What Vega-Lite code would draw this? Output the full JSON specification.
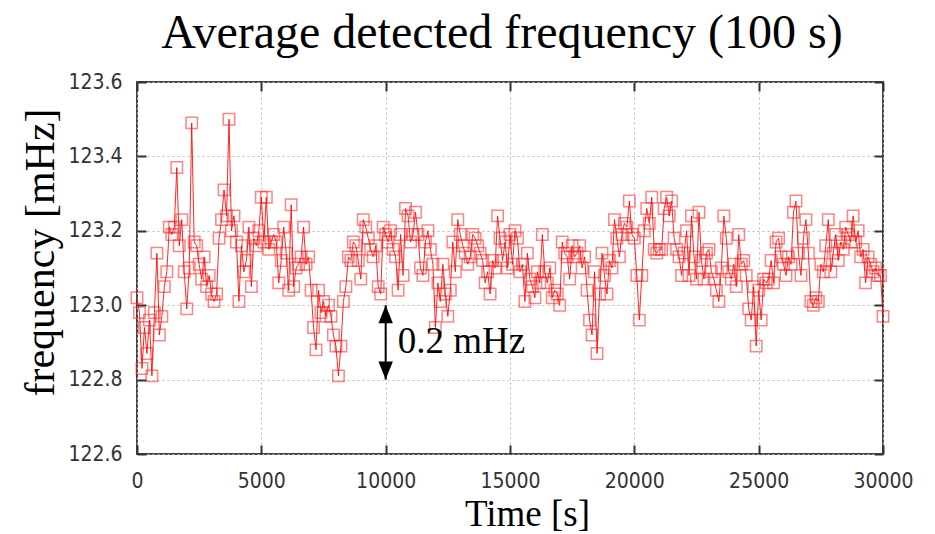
{
  "$schema": "https://vega.github.io/schema/vega-lite/v6.json",
  "width": 746,
  "height": 372,
  "autosize": {"type": "none"},
  "padding": {"left": 137, "top": 82, "right": 52, "bottom": 80},
  "background": "white",
  "title": {
    "text": "Average detected frequency (100 s)",
    "font": "Liberation Serif",
    "fontSize": 48,
    "fontWeight": "normal",
    "color": "black",
    "anchor": "middle",
    "offset": 13,
    "dx": -8
  },
  "config": {
    "view": {"stroke": "#444444", "strokeWidth": 2},
    "axis": {
      "labelFont": "Liberation Sans Narrow, DejaVu Sans Condensed, Liberation Sans",
      "labelFontSize": 21,
      "labelColor": "#333333",
      "labelFlush": false,
      "titleFont": "Liberation Serif",
      "titleFontWeight": "normal",
      "titleColor": "black",
      "domain": false,
      "tickColor": "#333333",
      "tickWidth": 2,
      "tickSize": -9,
      "gridColor": "#bbbbbb",
      "gridDash": [2, 3],
      "gridWidth": 1
    }
  },
  "datasets": {
    "freq": [
      {"t":0,"f":123.02},{"t":100,"f":122.98},{"t":200,"f":122.83},{"t":300,"f":122.94},{"t":400,"f":122.87},
      {"t":500,"f":122.96},{"t":600,"f":122.81},{"t":700,"f":122.98},{"t":800,"f":123.14},{"t":900,"f":122.92},
      {"t":1000,"f":122.97},{"t":1100,"f":123.05},{"t":1200,"f":123.09},{"t":1300,"f":123.21},{"t":1400,"f":123.19},
      {"t":1500,"f":123.21},{"t":1600,"f":123.37},{"t":1700,"f":123.16},{"t":1800,"f":123.23},{"t":1900,"f":123.09},
      {"t":2000,"f":122.99},{"t":2100,"f":123.10},{"t":2200,"f":123.49},{"t":2300,"f":123.17},{"t":2400,"f":123.16},
      {"t":2500,"f":123.11},{"t":2600,"f":123.07},{"t":2700,"f":123.13},{"t":2800,"f":123.05},{"t":2900,"f":123.08},
      {"t":3000,"f":123.03},{"t":3100,"f":123.01},{"t":3200,"f":123.03},{"t":3300,"f":123.18},{"t":3400,"f":123.23},
      {"t":3500,"f":123.31},{"t":3600,"f":123.24},{"t":3700,"f":123.50},{"t":3800,"f":123.20},{"t":3900,"f":123.24},
      {"t":4000,"f":123.17},{"t":4100,"f":123.01},{"t":4200,"f":123.16},{"t":4300,"f":123.09},{"t":4400,"f":123.12},
      {"t":4500,"f":123.21},{"t":4600,"f":123.05},{"t":4700,"f":123.18},{"t":4800,"f":123.16},{"t":4900,"f":123.20},
      {"t":5000,"f":123.29},{"t":5100,"f":123.17},{"t":5200,"f":123.29},{"t":5300,"f":123.15},{"t":5400,"f":123.17},
      {"t":5500,"f":123.19},{"t":5600,"f":123.17},{"t":5700,"f":123.06},{"t":5800,"f":123.12},{"t":5900,"f":123.21},
      {"t":6000,"f":123.14},{"t":6100,"f":123.04},{"t":6200,"f":123.27},{"t":6300,"f":123.05},{"t":6400,"f":123.10},
      {"t":6500,"f":123.11},{"t":6600,"f":123.13},{"t":6700,"f":123.21},{"t":6800,"f":123.11},{"t":6900,"f":123.13},
      {"t":7000,"f":123.04},{"t":7100,"f":122.94},{"t":7200,"f":122.88},{"t":7300,"f":123.04},{"t":7400,"f":122.98},
      {"t":7500,"f":123.01},{"t":7600,"f":122.97},{"t":7700,"f":123.00},{"t":7800,"f":122.97},{"t":7900,"f":122.92},
      {"t":8000,"f":122.89},{"t":8100,"f":122.81},{"t":8200,"f":122.89},{"t":8300,"f":123.01},{"t":8400,"f":123.05},
      {"t":8500,"f":123.13},{"t":8600,"f":123.12},{"t":8700,"f":123.17},{"t":8800,"f":123.16},{"t":8900,"f":123.12},
      {"t":9000,"f":123.07},{"t":9100,"f":123.23},{"t":9200,"f":123.21},{"t":9300,"f":123.18},{"t":9400,"f":123.15},
      {"t":9500,"f":123.13},{"t":9600,"f":123.16},{"t":9700,"f":123.05},{"t":9800,"f":123.03},{"t":9900,"f":123.21},
      {"t":10000,"f":123.19},{"t":10100,"f":123.17},{"t":10200,"f":123.20},{"t":10300,"f":123.15},{"t":10400,"f":123.13},
      {"t":10500,"f":123.04},{"t":10600,"f":123.19},{"t":10700,"f":123.08},{"t":10800,"f":123.26},{"t":10900,"f":123.24},
      {"t":11000,"f":123.17},{"t":11100,"f":123.19},{"t":11200,"f":123.25},{"t":11300,"f":123.19},{"t":11400,"f":123.10},
      {"t":11500,"f":123.08},{"t":11600,"f":123.17},{"t":11700,"f":123.20},{"t":11800,"f":123.15},{"t":11900,"f":123.11},
      {"t":12000,"f":122.94},{"t":12100,"f":123.06},{"t":12200,"f":123.01},{"t":12300,"f":123.11},{"t":12400,"f":123.03},
      {"t":12500,"f":122.97},{"t":12600,"f":123.04},{"t":12700,"f":123.17},{"t":12800,"f":123.09},{"t":12900,"f":123.23},
      {"t":13000,"f":123.19},{"t":13100,"f":123.16},{"t":13200,"f":123.14},{"t":13300,"f":123.11},{"t":13400,"f":123.13},
      {"t":13500,"f":123.19},{"t":13600,"f":123.18},{"t":13700,"f":123.16},{"t":13800,"f":123.14},{"t":13900,"f":123.12},
      {"t":14000,"f":123.06},{"t":14100,"f":123.09},{"t":14200,"f":123.03},{"t":14300,"f":123.12},{"t":14400,"f":123.10},
      {"t":14500,"f":123.24},{"t":14600,"f":123.18},{"t":14700,"f":123.12},{"t":14800,"f":123.17},{"t":14900,"f":123.10},
      {"t":15000,"f":123.19},{"t":15100,"f":123.11},{"t":15200,"f":123.20},{"t":15300,"f":123.18},{"t":15400,"f":123.09},
      {"t":15500,"f":123.11},{"t":15600,"f":123.01},{"t":15700,"f":123.14},{"t":15800,"f":123.07},{"t":15900,"f":123.05},
      {"t":16000,"f":123.02},{"t":16100,"f":123.09},{"t":16200,"f":123.06},{"t":16300,"f":123.19},{"t":16400,"f":123.09},
      {"t":16500,"f":123.06},{"t":16600,"f":123.10},{"t":16700,"f":123.02},{"t":16800,"f":123.04},{"t":16900,"f":123.03},
      {"t":17000,"f":123.00},{"t":17100,"f":123.17},{"t":17200,"f":123.14},{"t":17300,"f":123.13},{"t":17400,"f":123.07},
      {"t":17500,"f":123.16},{"t":17600,"f":123.13},{"t":17700,"f":123.14},{"t":17800,"f":123.16},{"t":17900,"f":123.10},
      {"t":18000,"f":123.13},{"t":18100,"f":123.04},{"t":18200,"f":122.96},{"t":18300,"f":122.92},{"t":18400,"f":123.09},
      {"t":18500,"f":122.87},{"t":18600,"f":123.03},{"t":18700,"f":123.14},{"t":18800,"f":123.08},{"t":18900,"f":123.03},
      {"t":19000,"f":123.12},{"t":19100,"f":123.10},{"t":19200,"f":123.23},{"t":19300,"f":123.18},{"t":19400,"f":123.13},
      {"t":19500,"f":123.19},{"t":19600,"f":123.22},{"t":19700,"f":123.21},{"t":19800,"f":123.28},{"t":19900,"f":123.19},
      {"t":20000,"f":123.18},{"t":20100,"f":123.08},{"t":20200,"f":122.96},{"t":20300,"f":123.08},{"t":20400,"f":123.20},
      {"t":20500,"f":123.26},{"t":20600,"f":123.22},{"t":20700,"f":123.29},{"t":20800,"f":123.15},{"t":20900,"f":123.14},
      {"t":21000,"f":123.15},{"t":21100,"f":123.15},{"t":21200,"f":123.26},{"t":21300,"f":123.29},{"t":21400,"f":123.24},
      {"t":21500,"f":123.28},{"t":21600,"f":123.18},{"t":21700,"f":123.15},{"t":21800,"f":123.13},{"t":21900,"f":123.08},
      {"t":22000,"f":123.14},{"t":22100,"f":123.20},{"t":22200,"f":123.08},{"t":22300,"f":123.24},{"t":22400,"f":123.13},
      {"t":22500,"f":123.07},{"t":22600,"f":123.25},{"t":22700,"f":123.12},{"t":22800,"f":123.07},{"t":22900,"f":123.14},
      {"t":23000,"f":123.15},{"t":23100,"f":123.09},{"t":23200,"f":123.07},{"t":23300,"f":123.04},{"t":23400,"f":123.01},
      {"t":23500,"f":123.10},{"t":23600,"f":123.24},{"t":23700,"f":123.18},{"t":23800,"f":123.09},{"t":23900,"f":123.07},
      {"t":24000,"f":123.11},{"t":24100,"f":123.05},{"t":24200,"f":123.19},{"t":24300,"f":123.11},{"t":24400,"f":123.12},
      {"t":24500,"f":123.08},{"t":24600,"f":122.99},{"t":24700,"f":122.96},{"t":24800,"f":123.05},{"t":24900,"f":122.89},
      {"t":25000,"f":123.04},{"t":25100,"f":122.96},{"t":25200,"f":123.07},{"t":25300,"f":123.06},{"t":25400,"f":123.07},
      {"t":25500,"f":123.12},{"t":25600,"f":123.06},{"t":25700,"f":123.17},{"t":25800,"f":123.18},{"t":25900,"f":123.13},
      {"t":26000,"f":123.11},{"t":26100,"f":123.08},{"t":26200,"f":123.13},{"t":26300,"f":123.11},{"t":26400,"f":123.25},
      {"t":26500,"f":123.28},{"t":26600,"f":123.14},{"t":26700,"f":123.08},{"t":26800,"f":123.18},{"t":26900,"f":123.23},
      {"t":27000,"f":123.14},{"t":27100,"f":123.01},{"t":27200,"f":123.00},{"t":27300,"f":123.02},{"t":27400,"f":123.01},
      {"t":27500,"f":123.11},{"t":27600,"f":123.09},{"t":27700,"f":123.16},{"t":27800,"f":123.23},{"t":27900,"f":123.09},
      {"t":28000,"f":123.14},{"t":28100,"f":123.19},{"t":28200,"f":123.12},{"t":28300,"f":123.17},{"t":28400,"f":123.15},
      {"t":28500,"f":123.21},{"t":28600,"f":123.19},{"t":28700,"f":123.17},{"t":28800,"f":123.24},{"t":28900,"f":123.17},
      {"t":29000,"f":123.20},{"t":29100,"f":123.13},{"t":29200,"f":123.15},{"t":29300,"f":123.06},{"t":29400,"f":123.13},
      {"t":29500,"f":123.11},{"t":29600,"f":123.09},{"t":29700,"f":123.10},{"t":29800,"f":123.08},{"t":29900,"f":123.08},
      {"t":30000,"f":122.97}
    ],
    "span": [
      {"t": 10000, "lo": 122.8, "hi": 123.0, "mid": 122.9, "label": "0.2 mHz"}
    ]
  },
  "resolve": {"axis": {"x": "independent", "y": "independent"}},
  "layer": [
    {
      "data": {"name": "freq"},
      "mark": {"type": "line", "color": "#ff0000", "strokeWidth": 1, "opacity": 0.85},
      "encoding": {
        "x": {
          "field": "t", "type": "quantitative",
          "scale": {"domain": [0, 30000], "nice": false, "zero": false},
          "axis": {
            "orient": "bottom",
            "values": [0, 5000, 10000, 15000, 20000, 25000, 30000],
            "format": "d",
            "labelPadding": 25,
            "title": "Time [s]",
            "titleFontSize": 37,
            "titlePadding": 5,
            "titleX": 390,
            "grid": true
          }
        },
        "y": {
          "field": "f", "type": "quantitative",
          "scale": {"domain": [122.6, 123.6], "nice": false, "zero": false},
          "axis": {
            "orient": "left",
            "values": [122.6, 122.8, 123.0, 123.2, 123.4, 123.6],
            "format": ".1f",
            "labelPadding": 24,
            "title": "frequency [mHz]",
            "titleFontSize": 42,
            "titlePadding": 5,
            "titleY": 170,
            "grid": true
          }
        }
      }
    },
    {
      "data": {"name": "freq"},
      "mark": {"type": "point", "shape": "square", "filled": false, "size": 130, "stroke": "#ff2020", "strokeWidth": 1.5, "opacity": 0.55},
      "encoding": {
        "x": {
          "field": "t", "type": "quantitative",
          "axis": {"orient": "top", "values": [0, 5000, 10000, 15000, 20000, 25000, 30000], "labels": false, "title": null, "grid": false}
        },
        "y": {
          "field": "f", "type": "quantitative",
          "axis": {"orient": "right", "values": [122.6, 122.8, 123.0, 123.2, 123.4, 123.6], "labels": false, "title": null, "grid": false}
        }
      }
    },
    {
      "data": {"name": "span"},
      "mark": {"type": "rule", "color": "black", "strokeWidth": 2},
      "encoding": {
        "x": {"field": "t", "type": "quantitative", "axis": null},
        "y": {"field": "lo", "type": "quantitative", "axis": null},
        "y2": {"field": "hi"}
      }
    },
    {
      "data": {"name": "span"},
      "mark": {"type": "point", "shape": "M0,0L-0.4,1L0.4,1Z", "filled": true, "color": "black", "opacity": 1, "size": 1300},
      "encoding": {
        "x": {"field": "t", "type": "quantitative", "axis": null},
        "y": {"field": "hi", "type": "quantitative", "axis": null}
      }
    },
    {
      "data": {"name": "span"},
      "mark": {"type": "point", "shape": "M0,0L-0.4,-1L0.4,-1Z", "filled": true, "color": "black", "opacity": 1, "size": 1300},
      "encoding": {
        "x": {"field": "t", "type": "quantitative", "axis": null},
        "y": {"field": "lo", "type": "quantitative", "axis": null}
      }
    },
    {
      "data": {"name": "span"},
      "mark": {"type": "text", "font": "Liberation Serif", "fontSize": 37, "align": "left", "baseline": "middle", "dx": 12, "color": "black"},
      "encoding": {
        "x": {"field": "t", "type": "quantitative", "axis": null},
        "y": {"field": "mid", "type": "quantitative", "axis": null},
        "text": {"field": "label"}
      }
    }
  ]
}
